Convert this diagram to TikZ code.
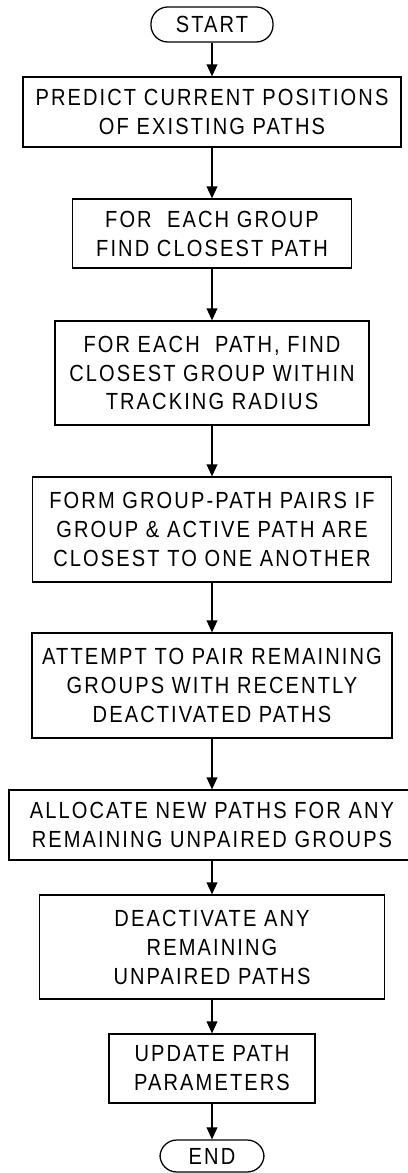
\documentclass[tikz,border=0pt]{standalone}
\usepackage{fontspec}
\setmainfont[FakeStretch=0.86, LetterSpace=9]{Liberation Sans}
\usetikzlibrary{arrows.meta}
\tikzset{
    procbox/.style={rectangle, draw, line width=0.9pt, align=center, inner sep=0pt, font=\fontsize{16.6}{20.6}\selectfont},
    termbox/.style={rectangle, draw, line width=0.9pt, rounded corners=0.42cm, align=center, inner sep=0pt, font=\fontsize{16.6}{20.6}\selectfont},
    line/.style={draw, line width=0.9pt, -{Triangle[length=0.3cm, width=0.27cm]}},
}
\begin{document}
\begin{tikzpicture}

    \useasboundingbox (0, 0) rectangle (10.175, -29.325);

    % Start
    \node[termbox, minimum width=3.05cm, minimum height=0.875cm] (start) at (5.3, -0.6125) {START};

    % Matching steps
    \node[procbox, minimum width=9.45cm, minimum height=1.75cm] (predict) at (5.3, -2.8) {PREDICT CURRENT POSITIONS\\OF EXISTING PATHS};
    \node[procbox, minimum width=6.975cm, minimum height=1.725cm] (grp_near) at (5.3, -5.8375) {FOR\ \ EACH GROUP\\FIND CLOSEST PATH};
    \node[procbox, minimum width=7.85cm, minimum height=2.6cm] (path_near) at (5.3, -9.325) {FOR EACH\ \ PATH, FIND\\CLOSEST GROUP WITHIN\\TRACKING RADIUS};
    \node[procbox, minimum width=8.975cm, minimum height=2.625cm] (pair_act) at (5.3, -13.2375) {FORM GROUP-PATH PAIRS IF\\GROUP \& ACTIVE PATH ARE\\CLOSEST TO ONE ANOTHER};
    \node[procbox, minimum width=9cm, minimum height=2.625cm] (pair_deact) at (5.3, -17.1375) {ATTEMPT TO PAIR REMAINING\\GROUPS WITH RECENTLY\\DEACTIVATED PATHS};

    % Leftovers
    \node[procbox, minimum width=10.15cm, minimum height=1.75cm] (alloc) at (5.3, -20.625) {ALLOCATE NEW PATHS FOR ANY\\REMAINING UNPAIRED GROUPS};
    \node[procbox, minimum width=8.625cm, minimum height=2.6cm] (deact) at (5.3, -23.675) {DEACTIVATE ANY\\REMAINING\\UNPAIRED PATHS};
    \node[procbox, minimum width=5.15cm, minimum height=1.725cm] (update) at (5.3, -26.7125) {UPDATE PATH\\PARAMETERS};

    % End
    \node[termbox, minimum width=2.6cm, minimum height=0.8cm] (end) at (5.3, -28.9) {END};

    % Arrows
    \path[line] (start) -- (predict);
    \path[line] (predict) -- (grp_near);
    \path[line] (grp_near) -- (path_near);
    \path[line] (path_near) -- (pair_act);
    \path[line] (pair_act) -- (pair_deact);
    \path[line] (pair_deact) -- (alloc);
    \path[line] (alloc) -- (deact);
    \path[line] (deact) -- (update);
    \path[line] (update) -- (end);

\end{tikzpicture}
\end{document}
